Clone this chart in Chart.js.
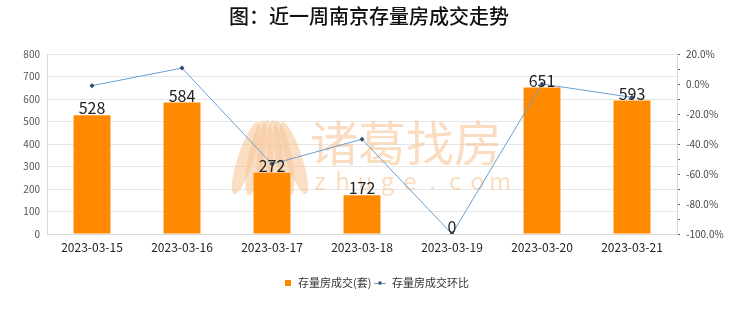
<!DOCTYPE html>
<html>
<head>
<meta charset="utf-8">
<script src="https://cdn.jsdelivr.net/npm/chart.js@4.4.1/dist/chart.umd.min.js"></script>
<style>
  html, body { margin: 0; padding: 0; background: #fff; }
  #wrap { width: 740px; height: 312px; }
</style>
</head>
<body>
<div id="wrap"><canvas id="myChart" width="740" height="312"></canvas></div>
<script>
const dates = ['2023-03-15', '2023-03-16', '2023-03-17', '2023-03-18', '2023-03-19', '2023-03-20', '2023-03-21'];
const deals = [528, 584, 272, 172, 0, 651, 593];
const ratio = [-1.1, 10.6, -53.4, -36.8, -100, 0, -8.9];  // 环比 %
const titleText = '图：近一周南京存量房成交走势';
const barName = '存量房成交(套)';
const lineName = '存量房成交环比';

const FONT = '"Noto Sans CJK SC", "Noto Sans", sans-serif';

// 标题、水印、数值标签、图例
const decor = {
    id: 'decor',
    beforeDatasetsDraw(chart) {
        const ctx = chart.ctx;
        ctx.save();
        // 水印 logo（莲花）
        ctx.fillStyle = 'rgba(246, 196, 150, 0.55)';
        const cx = 270, cy = 158;
        [[-24, 0.32], [-14, 0.19], [-5, 0.06], [5, -0.06], [14, -0.19], [24, -0.32]].forEach(p => {
            ctx.beginPath();
            ctx.ellipse(cx + p[0], cy, 8, 38, p[1], 0, Math.PI * 2);
            ctx.fill();
        });
        ctx.fillStyle = 'rgba(246, 196, 150, 0.6)';
        ctx.font = '48px ' + FONT;
        ctx.textBaseline = 'middle';
        ctx.textAlign = 'left';
        ctx.fillText('诸葛找房', 310, 143);
        ctx.font = '24px ' + FONT;
        ctx.textAlign = 'center';
        'zhuge.com'.split('').forEach((c, i) => ctx.fillText(c, 320 + i * 22.5, 181));
        ctx.restore();
    },
    afterDraw(chart) {
        const ctx = chart.ctx;
        ctx.save();
        ctx.fillStyle = '#111';
        ctx.font = '500 20px ' + FONT;
        ctx.textAlign = 'center';
        ctx.textBaseline = 'middle';
        ctx.fillText(titleText, 369, 16);

        // 柱顶数值
        const meta = chart.getDatasetMeta(0);
        ctx.font = '16px ' + FONT;
        ctx.fillStyle = '#222';
        ctx.textBaseline = 'bottom';
        meta.data.forEach((bar, i) => {
            ctx.fillText(String(deals[i]), bar.x, bar.y + 1);
        });

        // 图例
        ctx.font = '11px ' + FONT;
        ctx.textAlign = 'left';
        ctx.textBaseline = 'middle';
        const ly = 283;
        ctx.fillStyle = '#ff8a00';
        ctx.fillRect(285, ly - 3, 6, 6);
        ctx.fillStyle = '#333';
        ctx.fillText(barName, 298, ly);
        ctx.strokeStyle = '#6a9fd0';
        ctx.lineWidth = 1;
        ctx.beginPath();
        ctx.moveTo(374, ly + 0.5);
        ctx.lineTo(386, ly + 0.5);
        ctx.stroke();
        ctx.fillStyle = '#2e4d6f';
        ctx.fillRect(378.5, ly - 1.5, 3, 3);
        ctx.fillStyle = '#333';
        ctx.fillText(lineName, 392, ly);
        ctx.restore();
    }
};

new Chart(document.getElementById('myChart').getContext('2d'), {
    data: {
        labels: dates,
        datasets: [
            {
                type: 'bar',
                label: barName,
                data: deals,
                backgroundColor: '#ff8a00',
                barPercentage: 0.82,
                categoryPercentage: 0.5,
                yAxisID: 'y',
                order: 2
            },
            {
                type: 'line',
                label: lineName,
                data: ratio,
                borderColor: '#6a9fd0',
                borderWidth: 1,
                pointRadius: 2.5,
                pointStyle: 'rectRot',
                pointBackgroundColor: '#2e4d6f',
                pointBorderColor: '#2e4d6f',
                pointBorderWidth: 0,
                tension: 0,
                yAxisID: 'y1',
                order: 1
            }
        ]
    },
    options: {
        responsive: false,
        animation: false,
        layout: { padding: { top: 54, left: 0, right: 0, bottom: 0 } },
        plugins: {
            legend: { display: false },
            title: { display: false },
            tooltip: { enabled: false }
        },
        scales: {
            x: {
                grid: { display: false, drawTicks: false },
                border: { color: '#d9d9d9' },
                ticks: { color: '#222', font: { family: FONT, size: 12 }, padding: 6, maxRotation: 0 },
                afterFit(scale) { scale.height = 78; }
            },
            y: {
                position: 'left',
                min: 0,
                max: 800,
                ticks: { stepSize: 100, color: '#555', font: { family: FONT, size: 10 }, padding: 7 },
                grid: { color: '#e6e6e6', drawTicks: false },
                border: { color: '#d9d9d9' },
                afterFit(scale) { scale.width = 47; }
            },
            y1: {
                position: 'right',
                min: -100,
                max: 20,
                ticks: {
                    stepSize: 10,
                    color: '#444',
                    font: { family: FONT, size: 10 },
                    padding: 6,
                    callback: v => (v % 20 === 0 ? v.toFixed(1) + '%' : '')
                },
                grid: { drawOnChartArea: false, color: '#666', tickLength: 3 },
                border: { color: '#d9d9d9' },
                afterFit(scale) { scale.width = 63; }
            }
        }
    },
    plugins: [decor]
});
</script>
</body>
</html>
